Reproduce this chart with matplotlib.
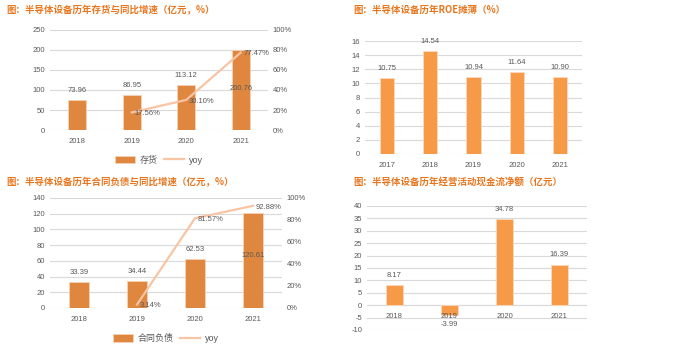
import numpy as np
import matplotlib
matplotlib.use("Agg")
import matplotlib.pyplot as plt
from matplotlib.ticker import PercentFormatter

plt.rcParams['font.family'] = ['Liberation Sans', 'Noto Sans CJK SC', 'DejaVu Sans']
plt.rcParams['axes.unicode_minus'] = False

# data
years_4 = ['2018', '2019', '2020', '2021']
inventory = [73.96, 86.95, 113.12, 200.76]
inventory_yoy = [17.56, 30.10, 77.47]          # 2019-2021

roe_years = ['2017', '2018', '2019', '2020', '2021']
roe = [10.75, 14.54, 10.94, 11.64, 10.90]

contract_liab = [33.39, 34.44, 62.53, 120.61]
contract_yoy = [3.14, 81.57, 92.88]            # 2019-2021

cashflow = [8.17, -3.99, 34.78, 16.39]

titles = ['图：半导体设备历年存货与同比增速（亿元，%）',
          '图：半导体设备历年ROE摊薄（%）',
          '图：半导体设备历年合同负债与同比增速（亿元，%）',
          '图：半导体设备历年经营活动现金流净额（亿元）']

W, H = 700, 352
DARK_ORANGE = '#DF873F'
ORANGE = '#F79A48'
LINE = '#F8C4A4'
GRID = '#D9D9D9'
TXT = '#595959'
TITLE = '#E8761E'

fig = plt.figure(figsize=(W / 100, H / 100), dpi=100)


def px_axes(left, right, top, bottom):
    return fig.add_axes([left / W, 1 - bottom / H, (right - left) / W, (bottom - top) / H])


def style(ax):
    for s in ax.spines.values():
        s.set_visible(False)
    ax.grid(axis='y', color=GRID, linewidth=0.8)
    ax.set_axisbelow(True)
    ax.tick_params(length=0, labelsize=5.5, colors=TXT)


def bar_labels(ax, x, vals, offset=7):
    for xi, v in zip(x, vals):
        ax.annotate(f'{v:.2f}', (xi, v), xytext=(0, offset if v >= 0 else -offset),
                    textcoords='offset points', ha='center', va='center',
                    fontsize=5.5, color=TXT)


def combo(ax, vals, yoy, ymax, ystep, inside_last, legend_name, leg_y):
    x = np.arange(len(vals))
    style(ax)
    ax.bar(x, vals, width=0.33, color=DARK_ORANGE, edgecolor='#F6D2B8', linewidth=0.6,
           label=legend_name, zorder=2)
    ax.set_xlim(-0.5, len(vals) - 0.5)
    ax.set_ylim(0, ymax)
    ax.set_yticks(np.arange(0, ymax + 1, ystep))
    ax.set_xticks(x)
    ax.set_xticklabels(years_4)
    ax.tick_params(axis='x', pad=6)
    bar_labels(ax, x[:-1], vals[:-1])
    ax.text(x[-1], inside_last, f'{vals[-1]:.2f}', ha='center', va='center',
            fontsize=5.5, color=TXT, zorder=5)
    ax2 = ax.twinx()
    for s in ax2.spines.values():
        s.set_visible(False)
    ax2.plot(x[1:], yoy, color=LINE, linewidth=1.6, label='yoy', zorder=3)
    ax2.set_ylim(0, 100)
    ax2.set_yticks(np.arange(0, 101, 20))
    ax2.yaxis.set_major_formatter(PercentFormatter(decimals=0))
    ax2.tick_params(length=0, labelsize=5.5, colors=TXT)
    for xi, v in zip(x[1:], yoy):
        ax2.annotate(f'{v:.2f}%', (xi, v), xytext=(2, -1), textcoords='offset points',
                     ha='left', va='center', fontsize=5.5, color=TXT)
    h1, l1 = ax.get_legend_handles_labels()
    h2, l2 = ax2.get_legend_handles_labels()
    ax.legend(h1 + h2, l1 + l2, loc='center', bbox_to_anchor=(0.5, leg_y), ncol=2,
              frameon=False, fontsize=6.5, handlelength=2.2, handleheight=0.9,
              handletextpad=0.5, columnspacing=0.7, labelcolor=TXT)
    return ax


# panel 1: inventory
ax1 = px_axes(50, 268, 30, 130)
combo(ax1, inventory, inventory_yoy, 250, 50, 105, '存货', -0.3)

# panel 2: ROE
ax_roe = px_axes(365, 582, 41, 154)
style(ax_roe)
xr = np.arange(len(roe))
ax_roe.bar(xr, roe, width=0.33, color=ORANGE, edgecolor='#FBD9BF', linewidth=0.6, zorder=2)
ax_roe.set_xlim(-0.5, len(roe) - 0.5)
ax_roe.set_ylim(0, 16)
ax_roe.set_yticks(np.arange(0, 17, 2))
ax_roe.set_xticks(xr)
ax_roe.set_xticklabels(roe_years)
ax_roe.tick_params(axis='x', pad=6)
bar_labels(ax_roe, xr, roe)

# panel 3: contract liabilities
ax3 = px_axes(50, 282, 198, 308)
combo(ax3, contract_liab, contract_yoy, 140, 20, 67, '合同负债', -0.28)

# panel 4: operating cash flow
ax4 = px_axes(367, 587, 206, 330)
style(ax4)
xc = np.arange(len(cashflow))
ax4.bar(xc, cashflow, width=0.31, color=ORANGE, edgecolor='#FBD9BF', linewidth=0.6, zorder=2)
ax4.set_xlim(-0.5, len(cashflow) - 0.5)
ax4.set_ylim(-10, 40)
ax4.set_yticks(np.arange(-10, 41, 5))
ax4.axhline(0, color=GRID, linewidth=0.8, zorder=1)
for xi, yr in zip(xc, years_4):
    ax4.annotate(yr, (xi, 0), xytext=(0, -8), textcoords='offset points',
                 ha='center', va='center', fontsize=5.5, color=TXT)
ax4.set_xticks([])
bar_labels(ax4, xc, cashflow)

# titles
for (tx, ty), t in zip([(6, 10), (353, 10), (6, 182), (353, 182)], titles):
    fig.text(tx / W, 1 - ty / H, t, fontsize=6.8, fontweight='bold', color=TITLE,
             va='center', ha='left', family=['Noto Sans CJK SC', 'DejaVu Sans'])

fig.savefig('out.png', dpi=100, facecolor='white')
